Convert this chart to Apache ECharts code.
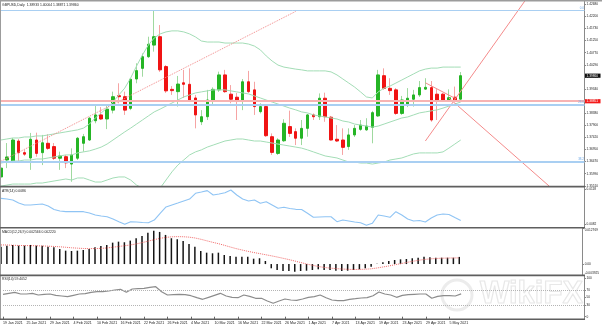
<!DOCTYPE html>
<html>
<head>
<meta charset="utf-8">
<script src="https://cdn.jsdelivr.net/npm/echarts@6/dist/echarts.min.js"></script>
<style>
html,body{margin:0;padding:0;background:#fff;}
#chart{width:602px;height:326px;}
</style>
</head>
<body>
<div id="chart"></div>
<script>
// GBPUSD daily bars, 19 Jan 2021 - 7 May 2021
const dates = [
  '19 Jan 2021','20 Jan 2021','21 Jan 2021','22 Jan 2021','25 Jan 2021','26 Jan 2021','27 Jan 2021','28 Jan 2021','29 Jan 2021',
  '1 Feb 2021','2 Feb 2021','3 Feb 2021','4 Feb 2021','5 Feb 2021','8 Feb 2021','9 Feb 2021','10 Feb 2021','11 Feb 2021','12 Feb 2021',
  '15 Feb 2021','16 Feb 2021','17 Feb 2021','18 Feb 2021','19 Feb 2021','22 Feb 2021','23 Feb 2021','24 Feb 2021','25 Feb 2021','26 Feb 2021',
  '1 Mar 2021','2 Mar 2021','3 Mar 2021','4 Mar 2021','5 Mar 2021','8 Mar 2021','9 Mar 2021','10 Mar 2021','11 Mar 2021','12 Mar 2021',
  '15 Mar 2021','16 Mar 2021','17 Mar 2021','18 Mar 2021','19 Mar 2021','22 Mar 2021','23 Mar 2021','24 Mar 2021','25 Mar 2021','26 Mar 2021',
  '29 Mar 2021','30 Mar 2021','31 Mar 2021','1 Apr 2021','2 Apr 2021','5 Apr 2021','6 Apr 2021','7 Apr 2021','8 Apr 2021','9 Apr 2021',
  '12 Apr 2021','13 Apr 2021','14 Apr 2021','15 Apr 2021','16 Apr 2021','19 Apr 2021','20 Apr 2021','21 Apr 2021','22 Apr 2021','23 Apr 2021',
  '26 Apr 2021','27 Apr 2021','28 Apr 2021','29 Apr 2021','30 Apr 2021','3 May 2021','4 May 2021','5 May 2021','6 May 2021','7 May 2021'
];

const opens = [
  1.3586,1.3653,1.3646,1.3728,1.3682,1.3661,1.3732,1.3682,1.3719,1.3706,
  1.3660,1.3666,1.3637,1.3660,1.3719,1.3732,1.3808,1.3831,1.3815,1.3850,
  1.3907,1.3903,1.3857,1.3973,1.4015,1.4061,1.4107,1.4140,1.4022,1.3932,
  1.3923,1.3958,1.3952,1.3898,1.3804,1.3824,1.3890,1.3930,1.3989,1.3913,
  1.3901,1.3890,1.3962,1.3930,1.3844,1.3864,1.3745,1.3679,1.3729,1.3785,
  1.3765,1.3739,1.3778,1.3831,1.3824,1.3897,1.3822,1.3735,1.3732,1.3706,
  1.3752,1.3774,1.3772,1.3782,1.3827,1.3986,1.3936,1.3930,1.3837,1.3870,
  1.3893,1.3910,1.3933,1.3939,1.3913,1.3913,1.3890,1.3901,1.38933
];
const closes = [
  1.3621,1.3665,1.3732,1.3682,1.3676,1.3735,1.3679,1.3721,1.3699,1.3660,
  1.3669,1.3642,1.3673,1.3739,1.3745,1.3818,1.3831,1.3815,1.3854,1.3903,
  1.3903,1.3850,1.3972,1.4006,1.4061,1.4110,1.4140,1.4009,1.3926,1.3927,
  1.3953,1.3952,1.3890,1.3831,1.3824,1.3890,1.3932,1.3989,1.3923,1.3893,
  1.3890,1.3962,1.3923,1.3864,1.3864,1.3749,1.3683,1.3732,1.3798,1.3758,
  1.3739,1.3778,1.3831,1.3824,1.3897,1.3824,1.3732,1.3728,1.3703,1.3752,
  1.3778,1.3791,1.3787,1.3840,1.3989,1.3936,1.3927,1.3837,1.3890,1.3897,
  1.3910,1.3939,1.3940,1.3811,1.3890,1.3887,1.3899,1.3887,1.39860
];
const lows = [
  1.3574,1.3621,1.3641,1.3641,1.3669,1.3614,1.3666,1.3633,1.3693,1.3653,
  1.3614,1.3621,1.3567,1.3653,1.3686,1.3728,1.3798,1.3811,1.3775,1.3837,
  1.3877,1.3831,1.3850,1.3956,1.3982,1.4056,1.4081,1.4001,1.3918,1.3910,
  1.3864,1.3898,1.3882,1.3778,1.3791,1.3811,1.3874,1.3922,1.3918,1.3877,
  1.3811,1.3850,1.3918,1.3831,1.3837,1.3744,1.3673,1.3673,1.3724,1.3744,
  1.3712,1.3712,1.3745,1.3811,1.3811,1.3804,1.3730,1.3724,1.3673,1.3693,
  1.3744,1.3768,1.3768,1.3719,1.3823,1.3930,1.3910,1.3831,1.3831,1.3862,
  1.3864,1.3902,1.3930,1.3804,1.3811,1.3882,1.3882,1.3882,1.38871
];
const highs = [
  1.3633,1.3720,1.3740,1.3736,1.3693,1.3760,1.3761,1.3752,1.3755,1.3720,
  1.3686,1.3673,1.3699,1.3744,1.3756,1.3823,1.3870,1.3862,1.3870,1.3923,
  1.3956,1.3923,1.3977,1.4035,1.4074,1.4140,1.4242,1.4186,1.4028,1.3945,
  1.3985,1.4009,1.4015,1.3910,1.3850,1.3930,1.3940,1.4002,1.4009,1.3949,
  1.3918,1.3973,1.4005,1.3962,1.3877,1.3874,1.3758,1.3739,1.3814,1.3848,
  1.3778,1.3811,1.3835,1.3837,1.3916,1.3919,1.3827,1.3791,1.3778,1.3778,
  1.3791,1.3811,1.3818,1.3847,1.4009,1.4015,1.3976,1.3937,1.3906,1.3937,
  1.3930,1.3965,1.3976,1.3965,1.3933,1.3918,1.3932,1.3943,1.40004
];

// Bollinger bands
const bbUpper = [
  1.3732,1.3736,1.3740,1.3740,1.3744,1.3744,1.3748,1.3748,1.3752,1.3756,
  1.3760,1.3764,1.3768,1.3772,1.3779,1.3795,1.3819,1.3839,1.3858,1.3882,
  1.3910,1.3937,1.3977,1.4024,1.4068,1.4107,1.4135,1.4151,1.4159,1.4163,
  1.4163,1.4159,1.4151,1.4139,1.4123,1.4119,1.4119,1.4119,1.4115,1.4115,
  1.4115,1.4115,1.4111,1.4103,1.4088,1.4064,1.4044,1.4028,1.4020,1.4016,
  1.4012,1.4009,1.4005,1.4005,1.4005,1.4005,1.4001,1.3989,1.3973,1.3957,
  1.3941,1.3922,1.3902,1.3898,1.3922,1.3937,1.3945,1.3957,1.3969,1.3981,
  1.3993,1.4005,1.4012,1.4016,1.4016,1.4020,1.4020,1.4020,1.4020
];
const bbMiddle = [
  1.3641,1.3645,1.3649,1.3649,1.3653,1.3653,1.3657,1.3657,1.3661,1.3665,
  1.3669,1.3673,1.3673,1.3681,1.3685,1.3689,1.3696,1.3704,1.3716,1.3732,
  1.3748,1.3764,1.3779,1.3795,1.3811,1.3827,1.3843,1.3854,1.3866,1.3878,
  1.3890,1.3902,1.3910,1.3918,1.3922,1.3926,1.3930,1.3930,1.3930,1.3926,
  1.3922,1.3918,1.3914,1.3906,1.3898,1.3890,1.3882,1.3874,1.3866,1.3858,
  1.3851,1.3843,1.3839,1.3831,1.3827,1.3823,1.3819,1.3815,1.3807,1.3803,
  1.3795,1.3791,1.3787,1.3783,1.3787,1.3795,1.3803,1.3811,1.3819,1.3823,
  1.3831,1.3839,1.3843,1.3847,1.3851,1.3858,1.3866,1.3874,1.3882
];
const bbLower = [
  1.3550,1.3554,1.3558,1.3558,1.3558,1.3558,1.3562,1.3562,1.3566,1.3570,
  1.3574,1.3578,1.3574,1.3582,1.3582,1.3574,1.3566,1.3566,1.3574,1.3582,
  1.3586,1.3586,1.3574,1.3554,1.3542,1.3527,1.3527,1.3542,1.3574,1.3606,
  1.3633,1.3653,1.3673,1.3685,1.3693,1.3704,1.3712,1.3720,1.3728,1.3732,
  1.3736,1.3736,1.3732,1.3728,1.3728,1.3724,1.3720,1.3716,1.3712,1.3708,
  1.3704,1.3700,1.3693,1.3685,1.3677,1.3669,1.3665,1.3661,1.3653,1.3645,
  1.3645,1.3641,1.3641,1.3637,1.3641,1.3645,1.3653,1.3657,1.3661,1.3669,
  1.3677,1.3681,1.3681,1.3681,1.3681,1.3685,1.3700,1.3716,1.3732
];

// ATR(14)
const atr = [
  0.01087,0.01080,0.01070,0.01039,0.01019,0.01019,0.01024,0.01029,0.01008,0.00972,
  0.00957,0.00950,0.00950,0.00950,0.00950,0.00936,0.00916,0.00905,0.00898,0.00875,
  0.00847,0.00820,0.00847,0.00844,0.00839,0.00836,0.00864,0.00933,0.00998,0.01019,
  0.01039,0.01060,0.01080,0.01139,0.01152,0.01166,0.01121,0.01132,0.01145,0.01173,
  0.01121,0.01080,0.01060,0.01070,0.01036,0.01052,0.01019,0.00985,0.00995,0.00983,
  0.00974,0.00972,0.00933,0.00892,0.00895,0.00898,0.00898,0.00847,0.00864,0.00854,
  0.00844,0.00836,0.00810,0.00830,0.00916,0.00905,0.00892,0.00950,0.00916,0.00875,
  0.00854,0.00859,0.00844,0.00885,0.00916,0.00926,0.00921,0.00890,0.0086
];

// MACD(12,26,9): main histogram and signal
const macdMain = [
  0.00625,0.00661,0.00686,0.00661,0.00661,0.00686,0.00661,0.00661,0.00625,0.00603,
  0.00542,0.00481,0.00470,0.00481,0.00506,0.00542,0.00603,0.00650,0.00686,0.00769,
  0.00805,0.00783,0.00841,0.00927,0.01010,0.01128,0.01200,0.01154,0.01046,0.00927,
  0.00891,0.00830,0.00722,0.00625,0.00470,0.00409,0.00387,0.00409,0.00326,0.00290,
  0.00265,0.00265,0.00265,0.00193,0.00208,0.00110,-0.00152,-0.00213,-0.00249,-0.00249,
  -0.00274,-0.00249,-0.00238,-0.00213,-0.00188,-0.00213,-0.00213,-0.00238,-0.00249,-0.00238,
  -0.00213,-0.00188,-0.00152,-0.00095,0.00010,0.00064,0.00110,0.00146,0.00170,0.00182,
  0.00208,0.00229,0.00265,0.00243,0.00229,0.00229,0.00229,0.00229,0.002566
];
const macdSignal = [
  0.00686,0.00686,0.00675,0.00668,0.00664,0.00661,0.00657,0.00650,0.00643,0.00632,
  0.00621,0.00603,0.00585,0.00571,0.00560,0.00556,0.00556,0.00564,0.00578,0.00603,
  0.00632,0.00657,0.00686,0.00722,0.00769,0.00819,0.00873,0.00920,0.00956,0.00977,
  0.00985,0.00981,0.00967,0.00938,0.00891,0.00837,0.00783,0.00733,0.00675,0.00614,
  0.00556,0.00506,0.00459,0.00416,0.00377,0.00337,0.00297,0.00254,0.00208,0.00161,
  0.00110,0.00056,0.00003,-0.00044,-0.00087,-0.00120,-0.00145,-0.00163,-0.00177,-0.00188,
  -0.00195,-0.00192,-0.00185,-0.00170,-0.00141,-0.00105,-0.00069,-0.00026,0.00013,0.00056,
  0.00096,0.00132,0.00164,0.00186,0.00200,0.00210,0.00216,0.00220,0.00222
];

// RSI(14)
const rsi = [
  58.3,60.9,63.5,59.1,59.1,60.9,56.5,58.3,59.1,55.7,
  53.9,52.1,55.7,59.1,60.0,63.5,65.1,65.1,66.9,69.5,
  71.4,63.5,72.1,73.0,73.9,76.5,78.1,65.1,56.5,57.4,
  58.3,57.4,54.7,49.5,45.3,50.5,55.7,60.9,53.9,50.5,
  49.5,56.5,53.1,47.9,47.9,40.9,34.9,40.9,46.1,43.5,
  42.7,46.1,50.5,52.1,56.5,49.5,43.5,41.7,41.7,45.3,
  46.9,48.7,49.5,54.7,64.3,59.1,56.5,50.5,55.7,57.4,
  58.3,59.1,59.1,47.9,53.1,54.7,54.7,53.9,59.4052
];

// Levels and drawn objects
const fibLevels = [
  { name: '0.0', value: 1.4244 },
  { name: '23.6', value: 1.3873 },
  { name: '38.2', value: 1.3647 }
];
const markedLevel = 1.38851;
const trendDotted = [[0, 1.3648], [50, 1.4240]];
const rayUp = [[71.8, 1.3728], [89.1, 1.4285]];
const rayShort = [[71.9, 1.3958], [77.3, 1.3897]];
const rayDown = [[75.7, 1.3898], [93.2, 1.3550]];

// Tick labels
const priceTicks = [1.35510,1.35990,1.36470,1.36950,1.37420,1.37900,1.38380,1.38860,
                    1.39340,1.39810,1.40290,1.40770,1.41250,1.41730,1.42200,1.42680];
const atrTicks = [0.0082, 0.0118];
const macdTicks = [-0.003925, 0, 0.012769];
const rsiTicks = [0, 30, 50, 70, 100];

const futureSlots = 21;
const categories = dates.concat(new Array(futureSlots).fill(''));
const last = dates.length - 1;

const FONT = 'Liberation Sans, Arial, sans-serif';
const TXT = '#222';

const candleRows = opens.map((o, i) => [o, closes[i], lows[i], highs[i]]);
const bodyRows = opens.map((o, i) => [o, closes[i], Math.min(o, closes[i]), Math.max(o, closes[i])]);

const chart = echarts.init(document.getElementById('chart'), null, { renderer: 'canvas' });

const gridLeft = 1, gridWidth = 583.5;
function xAx(gi, showLabels) {
  const every4 = (idx) => idx % 4 === 0 && idx <= last;
  return {
    type: 'category', gridIndex: gi, data: categories, boundaryGap: false,
    axisLine: { show: false },
    axisTick: showLabels ? { show: true, interval: every4, length: 2.5, lineStyle: { color: '#666', width: 1 } } : { show: false },
    axisLabel: showLabels ? {
      show: true, interval: every4, align: 'left', fontSize: 3.6, color: TXT,
      fontFamily: FONT, margin: 1.5
    } : { show: false },
    splitLine: { show: false }
  };
}
function yAx(gi, min, max, ticks, fmt, extra) {
  return Object.assign({
    type: 'value', gridIndex: gi, position: 'right', min: min, max: max,
    axisLine: { show: true, lineStyle: { color: '#8a8a8a', width: 1 } },
    axisTick: { show: true, length: 1.5, customValues: ticks, lineStyle: { color: '#888' } },
    axisLabel: { show: true, customValues: ticks, formatter: fmt, fontSize: 3.2,
                 color: TXT, fontFamily: FONT, margin: 2 },
    splitLine: { show: false }
  }, extra || {});
}

const titleStyle = { fontSize: 3.4, fontWeight: 'normal', color: TXT, fontFamily: FONT };
const boxLabel = (text, bg) => ({
  show: true, position: 'end', formatter: text, color: '#fff', backgroundColor: bg,
  padding: [0.6, 2.5, 0.6, 1.5], fontSize: 3.2, fontFamily: FONT, distance: 0.5
});

const option = {
  animation: false,
  backgroundColor: '#fff',
  title: [
    { text: 'GBPUSD,Daily  ' + [opens[last], highs[last], lows[last], closes[last]].map(v => v.toFixed(5)).join(' '),
      left: 2, top: 3.3, padding: 0, textStyle: titleStyle },
    { text: 'ATR(14) ' + atr[last].toFixed(4), left: 2, top: 189.4, padding: 0, textStyle: titleStyle },
    { text: 'MACD(12,26,9) ' + macdMain[last].toFixed(6) + ' ' + macdSignal[last].toFixed(6),
      left: 2, top: 230.4, padding: 0, textStyle: titleStyle },
    { text: 'RSI(14) ' + rsi[last].toFixed(4), left: 2, top: 277.8, padding: 0, textStyle: titleStyle }
  ],
  grid: [
    { left: gridLeft, width: gridWidth, top: 1, height: 185 },
    { left: gridLeft, width: gridWidth, top: 187.5, height: 40 },
    { left: gridLeft, width: gridWidth, top: 228.5, height: 46.5 },
    { left: gridLeft, width: gridWidth, top: 276, height: 43 }
  ],
  xAxis: [xAx(0, false), xAx(1, false), xAx(2, false), xAx(3, true)],
  yAxis: [
    yAx(0, 1.35503, 1.428105, priceTicks, v => v.toFixed(5)),
    yAx(1, 0.007871, 0.011985, atrTicks, v => v.toFixed(4)),
    yAx(2, -0.003925, 0.012769, macdTicks, v => (v === 0 ? '0.00' : v.toFixed(6)),
        { axisLabel: { show: true, customValues: macdTicks, formatter: v => (v === 0 ? '0.00' : v.toFixed(6)),
                       fontSize: 3.2, color: TXT, fontFamily: FONT, margin: 2,
                       verticalAlignMaxLabel: 'top', verticalAlignMinLabel: 'bottom' } }),
    yAx(3, -6, 106, rsiTicks, v => String(v))
  ],
  series: [
    // candle wicks
    {
      type: 'candlestick', xAxisIndex: 0, yAxisIndex: 0, data: candleRows, barWidth: 1, z: 2,
      itemStyle: { color: '#9fd99f', color0: '#f6a4a4', borderColor: '#9fd99f', borderColor0: '#f6a4a4', borderWidth: 1 }
    },
    // candle bodies
    {
      type: 'candlestick', xAxisIndex: 0, yAxisIndex: 0, data: bodyRows, barWidth: 3, z: 3,
      itemStyle: { color: '#25b525', color0: '#f01414', borderColor: '#25b525', borderColor0: '#f01414', borderWidth: 1 },
      markLine: {
        silent: true, symbol: 'none', animation: false, precision: 5,
        data: [
          ...fibLevels.map((f, k) => ({
            yAxis: f.value,
            lineStyle: { color: '#a9cff2', width: k === 0 ? 1 : 1.8, type: 'solid' },
            label: { show: true, position: 'insideEndTop', formatter: f.name, color: '#6aa6e6',
                     fontSize: 3, fontFamily: FONT, distance: 0.5 }
          })),
          {
            yAxis: markedLevel,
            lineStyle: { color: '#f7b3b3', width: 2, type: 'solid' },
            label: boxLabel(markedLevel.toFixed(5), '#f41a1a')
          },
          {
            yAxis: closes[last],
            lineStyle: { color: 'rgba(255,255,255,0)', width: 0.01 },
            label: boxLabel(closes[last].toFixed(5), '#111')
          }
        ]
      }
    },
    // Bollinger bands
    ...[bbUpper, bbMiddle, bbLower].map(arr => ({
      type: 'line', xAxisIndex: 0, yAxisIndex: 0, data: arr, showSymbol: false, z: 4,
      lineStyle: { color: '#a3ddb6', width: 1 }, smooth: false
    })),
    // trend lines
    { type: 'line', xAxisIndex: 0, yAxisIndex: 0, data: trendDotted, showSymbol: false, z: 4,
      lineStyle: { color: '#f38a8a', width: 1, type: 'dotted' } },
    ...[rayUp, rayShort, rayDown].map(seg => ({
      type: 'line', xAxisIndex: 0, yAxisIndex: 0, data: seg, showSymbol: false, z: 4,
      lineStyle: { color: '#f48b8b', width: 1 }
    })),
    // ATR
    { type: 'line', xAxisIndex: 1, yAxisIndex: 1, data: atr, showSymbol: false,
      lineStyle: { color: '#8fc4f4', width: 1.1 } },
    // MACD
    { type: 'bar', xAxisIndex: 2, yAxisIndex: 2, data: macdMain, barWidth: 1.5,
      itemStyle: { color: '#151515' } },
    { type: 'line', xAxisIndex: 2, yAxisIndex: 2, data: macdSignal, showSymbol: false, z: 4,
      lineStyle: { color: '#f26a6a', width: 1, type: 'dotted' } },
    // RSI
    { type: 'line', xAxisIndex: 3, yAxisIndex: 3, data: rsi, showSymbol: false,
      lineStyle: { color: '#8c8c8c', width: 1.2 },
      markLine: {
        silent: true, symbol: 'none', animation: false, precision: 2, label: { show: false },
        lineStyle: { color: '#b4b4b4', width: 1, type: 'dotted' },
        data: [{ yAxis: 70 }, { yAxis: 30 }]
      } }
  ],
  graphic: [
    // window frame and pane separators
    { type: 'rect', z: 100, silent: true, shape: { x: 0, y: 0, width: 602, height: 1.6 }, style: { fill: '#9c9c9c' } },
    { type: 'rect', z: 100, silent: true, shape: { x: 0, y: 0, width: 1, height: 320 }, style: { fill: '#9c9c9c' } },
    { type: 'rect', z: 100, silent: true, shape: { x: 0, y: 185.8, width: 585, height: 1.6 }, style: { fill: '#5f5f5f' } },
    { type: 'rect', z: 100, silent: true, shape: { x: 0, y: 227, width: 585, height: 1.6 }, style: { fill: '#5f5f5f' } },
    { type: 'rect', z: 100, silent: true, shape: { x: 0, y: 274.6, width: 585, height: 1.6 }, style: { fill: '#5f5f5f' } },
    { type: 'rect', z: 100, silent: true, shape: { x: 0, y: 318.5, width: 585, height: 1.6 }, style: { fill: '#5f5f5f' } },
    // watermark
    { type: 'circle', z: 1, silent: true, shape: { cx: 457, cy: 295, r: 15 },
      style: { fill: 'none', stroke: '#ececec', lineWidth: 3 } },
    { type: 'text', z: 1, silent: true, x: 480, y: 279,
      style: { text: 'WikiFX', fontSize: 31, fontWeight: 'bold', fontFamily: FONT,
               fill: 'rgba(0,0,0,0)', stroke: '#e8e8e8', lineWidth: 1.2 } }
  ]
};

chart.setOption(option);
</script>
</body>
</html>
